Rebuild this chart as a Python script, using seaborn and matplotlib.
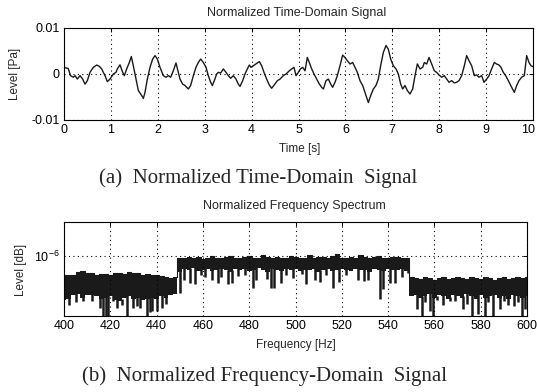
import numpy as np
import pandas as pd
import matplotlib
matplotlib.use("Agg")
import matplotlib.pyplot as plt
import matplotlib.transforms as mtransforms
import seaborn as sns
from matplotlib.ticker import NullLocator, LogFormatterMathtext

# ---------------- data: time-domain signal (level in 1e-3 Pa) ----------------
time_s = [0.0, 0.09, 0.14, 0.20, 0.235, 0.284, 0.341, 0.398, 0.448, 0.498,
          0.554, 0.625, 0.697, 0.754, 0.803, 0.874, 0.924, 0.981, 1.052, 1.109,
          1.137, 1.194, 1.251, 1.287, 1.336, 1.393, 1.436, 1.478, 1.535, 1.585,
          1.635, 1.692, 1.727, 1.777, 1.834, 1.891, 1.941, 1.99, 2.047, 2.118,
          2.175, 2.225, 2.274, 2.331, 2.388, 2.438, 2.473, 2.53, 2.58, 2.651,
          2.70, 2.758, 2.814, 2.864, 2.914, 2.971, 3.028, 3.077, 3.127, 3.163,
          3.205, 3.255, 3.291, 3.34, 3.397, 3.454, 3.504, 3.553, 3.61, 3.667,
          3.717, 3.753, 3.81, 3.859, 3.909, 3.952, 3.987, 4.037, 4.094, 4.165,
          4.215, 4.264, 4.321, 4.378, 4.428, 4.499, 4.549, 4.606, 4.677, 4.734,
          4.805, 4.855, 4.904, 4.947, 4.997, 5.04, 5.089, 5.139, 5.188, 5.231,
          5.281, 5.33, 5.387, 5.444, 5.494, 5.53, 5.586, 5.636, 5.686, 5.728,
          5.778, 5.828, 5.885, 5.941, 5.991, 6.041, 6.098, 6.155, 6.205, 6.254,
          6.311, 6.368, 6.418, 6.489, 6.539, 6.596, 6.652, 6.702, 6.752, 6.809,
          6.866, 6.915, 6.965, 7.022, 7.079, 7.129, 7.178, 7.221, 7.271, 7.321,
          7.377, 7.434, 7.484, 7.534, 7.591, 7.648, 7.683, 7.733, 7.783, 7.84,
          7.896, 7.946, 7.996, 8.053, 8.109, 8.159, 8.209, 8.266, 8.323, 8.372,
          8.422, 8.479, 8.536, 8.585, 8.635, 8.692, 8.749, 8.799, 8.848, 8.905,
          8.955, 9.012, 9.062, 9.118, 9.175, 9.225, 9.275, 9.317, 9.367, 9.417,
          9.474, 9.545, 9.602, 9.652, 9.701, 9.758, 9.815, 9.865, 9.915, 9.957,
          10.0]
level_mPa = [1.4, 1.2, -0.36, -0.7, -0.36, -1.1, -0.36, -1.1, -2.2, -1.45,
             0.36, 1.45, 1.95, 1.67, 1.1, -0.36, -1.67, -1.1, 0.0, 0.36,
             1.1, 2.0, 0.36, -0.36, 1.1, 2.5, 3.8, 1.8, -1.1, -3.6,
             -4.35, -5.3, -4.0, -1.1, 1.45, 3.26, 4.0, 3.26, 1.45, -0.36,
             -0.7, -0.36, -0.7, 0.7, 2.4, 0.36, -1.1, -2.2, -2.5, -3.26,
             -2.5, -0.36, 1.45, 2.5, 3.26, 2.5, 1.45, -0.36, -1.8, -2.5,
             -1.45, 0.0, 0.36, 0.2, 1.1, 0.36, -0.36, -0.94, -0.36, -1.1,
             -2.2, -2.7, -1.45, 0.0, 1.1, 1.95, 1.45, 1.8, 2.17, 2.7,
             1.8, 0.36, -1.1, -2.4, -3.1, -2.17, -1.45, -1.1, -0.36, 0.0,
             0.7, 1.1, 1.45, -0.36, 0.36, 1.1, 1.45, 0.7, 3.6, 2.5,
             1.1, 0.0, -1.1, -2.17, -2.9, -3.26, -1.45, -1.1, -2.17, -2.9,
             -1.8, -0.36, 1.8, 4.1, 3.6, 2.9, 2.17, 2.5, 1.45, 0.36,
             -1.45, -2.5, -4.0, -6.2, -4.7, -3.26, -2.5, -1.1, 1.8, 4.7,
             6.2, 5.4, 3.26, 1.8, 1.1, 0.0, -2.17, -3.26, -2.5, -3.6,
             -4.35, -3.26, -0.36, 2.2, 1.1, 1.45, 2.5, 2.17, 3.6, 2.17,
             0.7, 0.36, -0.2, -0.7, -0.36, -1.1, -1.8, -1.45, -1.95, -1.8,
             -1.45, -0.36, 1.8, 4.0, 2.9, 1.8, -0.36, -0.2, -0.7, -0.36,
             -1.8, -1.1, -0.36, 1.1, 2.5, 2.17, 1.95, 1.45, 0.36, -0.36,
             -1.45, -2.9, -4.0, -2.5, -1.45, -0.7, -0.36, 4.0, 2.5, 1.8,
             1.6]

# ---------------- data: frequency spectrum (level in 1e-7) ----------------
freq_hz = list(range(400, 601, 2))
upper_e7 = [6.2, 6.3, 6.3, 6.8, 6.9, 6.6, 6.5, 6.3, 6.4, 6.4,
            6.3, 6.5, 6.6, 6.4, 6.7, 6.6, 6.5, 6.3, 6.4, 6.2,
            6.3, 6.1, 5.9, 5.8, 5.9,
            9.6, 9.4, 9.8, 9.5, 9.7, 9.3, 9.6, 9.9, 9.5, 9.4,
            9.8, 10.0, 9.6, 9.5, 9.7, 9.9, 9.4, 9.6, 10.2, 9.7,
            9.5, 9.8, 9.6, 9.4, 9.9, 9.7, 9.5, 9.6, 10.1, 9.4,
            9.7, 9.8, 9.5, 9.9, 10.4, 9.6, 9.5, 9.8, 9.6, 10.3,
            9.7, 9.5, 9.8, 9.9, 9.6, 9.4, 9.7, 9.8, 9.5, 9.6,
            6.0, 5.8, 5.7, 5.9, 5.8, 5.6, 5.8, 5.9, 5.7, 5.8,
            6.0, 5.8, 5.7, 5.9, 5.8, 5.7, 5.9, 5.8, 5.6, 5.8,
            5.9, 5.7, 5.8, 5.9, 5.8, 5.9]
floor_e7 = [3.4, 3.5, 3.8, 3.9, 3.6, 3.8, 3.8, 3.7, 3.5, 3.6,
            3.7, 3.4, 3.3, 3.6, 3.7, 3.5, 3.6, 3.4, 3.5, 3.6,
            3.5, 3.7, 3.6, 3.8, 3.9,
            6.8, 7.2, 7.0, 7.4, 6.9, 7.1, 7.3, 6.9, 7.0, 7.2,
            7.1, 6.8, 7.3, 7.0, 7.2, 6.9, 7.1, 7.4, 7.0, 6.8,
            7.2, 7.1, 6.9, 7.3, 7.0, 7.2, 6.9, 7.1, 7.0, 7.3,
            6.8, 7.1, 7.2, 6.9, 7.0, 7.3, 7.1, 6.9, 7.2, 7.0,
            7.1, 6.8, 7.2, 7.0, 6.9, 7.3, 7.1, 7.0, 7.2, 6.9,
            3.7, 3.8, 3.6, 3.7, 3.9, 3.6, 3.8, 3.7, 3.5, 3.8,
            3.7, 3.6, 3.9, 3.7, 3.5, 3.8, 3.6, 3.7, 3.8, 3.6,
            3.7, 3.5, 3.8, 3.7, 3.6, 3.7]
dip_hz = [402, 405, 408, 412, 415.5, 417, 418, 419.2, 421, 423,
          425, 427, 430, 431.5, 433, 435.7, 437, 438, 440, 442.2, 444,
          450.1, 452, 454.4, 456.6, 459, 460.9, 463.8, 466.7, 468, 471,
          472.5, 475.3, 478, 481.8, 483, 487.5, 489.5, 490.8, 493.6, 496,
          499, 502.6, 504.5, 508.5, 510.5, 513, 516.3, 519, 522, 527,
          529.5, 531.5, 536.5, 538, 541, 543, 546, 548.5,
          552.3, 554.5, 556, 558.1, 559.5, 561, 563.9, 566.8, 569, 572.5,
          574, 576.1, 579, 581.9, 583, 585.5, 588.4, 590, 592, 594.2,
          596, 597.8, 599.2]
dip_e7 = [3.0, 3.2, 3.3, 3.3, 2.8, 2.2, 2.2, 2.2, 3.3, 2.8,
          3.0, 2.2, 2.8, 2.9, 2.8, 2.2, 2.5, 2.6, 2.6, 2.8, 3.1,
          4.0, 5.5, 5.1, 5.0, 6.2, 6.0, 5.5, 5.2, 6.0, 5.0,
          5.1, 6.1, 6.3, 4.6, 5.6, 5.7, 4.5, 4.6, 5.1, 6.2,
          5.8, 6.4, 5.0, 5.5, 5.3, 6.2, 4.5, 5.3, 6.3, 5.6,
          5.4, 5.6, 3.5, 4.4, 5.1, 5.2, 6.0, 6.5,
          2.7, 2.2, 3.2, 2.6, 2.2, 3.4, 3.0, 3.3, 3.3, 2.7,
          3.1, 2.2, 2.4, 2.2, 3.2, 2.2, 2.7, 3.3, 3.0, 2.9,
          3.2, 2.2, 2.7]

# ---------------- style ----------------
sns.set_theme(style="white")
plt.rcParams["font.family"] = ["Liberation Sans", "DejaVu Sans"]
plt.rcParams["mathtext.fontset"] = "custom"
plt.rcParams["mathtext.rm"] = "Liberation Sans"
plt.rcParams["axes.edgecolor"] = "black"
plt.rcParams["axes.linewidth"] = 0.8

W, H = 537, 392
fig = plt.figure(figsize=(W / 100, H / 100), dpi=100)
fig.patch.set_facecolor("white")


def rect(l, t, r, b):
    return [l / W, 1 - b / H, (r - l) / W, (b - t) / H]


def fx(x):
    return x / W


def fy(y):
    return 1 - y / H


ax1 = fig.add_axes(rect(64, 28, 533, 120))
ax2 = fig.add_axes(rect(64, 222, 527, 316))

ink = "#1a1a1a"
tick_kw = dict(direction="in", length=3, width=0.7, top=True, right=True,
               labelsize=9, colors="black", pad=3)

# ----- top: time signal -----
df_t = pd.DataFrame({"t": time_s, "p": np.array(level_mPa) * 1e-3})
sns.lineplot(data=df_t, x="t", y="p", ax=ax1, color=ink, linewidth=1.0)
ax1.set_xlim(0, 10)
ax1.set_ylim(-0.01, 0.01)
ax1.set_xticks(range(11))
ax1.set_yticks([-0.01, 0, 0.01])
ax1.set_yticklabels(["-0.01", "0", "0.01"])
ax1.grid(True, linestyle=(0, (1, 3)), color="black", linewidth=0.8)
ax1.tick_params(**tick_kw)
ax1.set_xlabel("")
ax1.set_ylabel("")

# ----- bottom: spectrum -----
f = np.array(freq_hz, dtype=float)
up = np.array(upper_e7) * 1e-7
fl = np.array(floor_e7) * 1e-7
ax2.set_yscale("log")
ax2.fill_between(f, fl, up, step="mid", color=ink, linewidth=0)
sns.lineplot(x=f, y=up, ax=ax2, color=ink, linewidth=0.8, drawstyle="steps-mid")
dh = np.array(dip_hz)
idx = np.clip(np.round((dh - 400) / 2).astype(int), 0, len(fl) - 1)
ax2.vlines(dh, np.array(dip_e7) * 1e-7, fl[idx] * 1.05, color=ink, linewidth=1.8)
ax2.set_xlim(400, 600)
ax2.set_ylim(10 ** -6.64, 10 ** -5.64)
ax2.set_xticks(range(400, 601, 20))
ax2.set_yticks([1e-6])
ax2.yaxis.set_minor_locator(NullLocator())
ax2.yaxis.set_major_formatter(LogFormatterMathtext())
ax2.grid(True, linestyle=(0, (1, 3)), color="black", linewidth=0.8)
ax2.tick_params(**tick_kw)
ax2.tick_params(which="minor", left=False, right=False)
ax2.set_xlabel("")
ax2.set_ylabel("")

for ax in (ax1, ax2):
    for s in ax.spines.values():
        s.set_color("black")
        s.set_linewidth(0.8)
    ax.set_axisbelow(False)

# keep the last time tick label inside the canvas, as in the reference
last = ax1.get_xticklabels()[-1]
last.set_transform(last.get_transform() +
                   mtransforms.ScaledTranslation(-5 / 100, 0, fig.dpi_scale_trans))

# ----- texts -----
fig.text(fx(297), fy(13), "Normalized Time-Domain Signal", ha="center", va="center", fontsize=9)
fig.text(fx(300), fy(149), "Time [s]", ha="center", va="center", fontsize=8.5)
fig.text(fx(15), fy(74), "Level [Pa]", ha="center", va="center", fontsize=8.5, rotation=90)
fig.text(fx(258), fy(178), "(a)  Normalized Time-Domain  Signal", ha="center", va="center",
         fontsize=15, family=["Liberation Serif", "DejaVu Serif"])

fig.text(fx(294), fy(206), "Normalized Frequency Spectrum", ha="center", va="center", fontsize=9)
fig.text(fx(296), fy(345), "Frequency [Hz]", ha="center", va="center", fontsize=8.5)
fig.text(fx(21), fy(270), "Level [dB]", ha="center", va="center", fontsize=8.5, rotation=90)
fig.text(fx(264), fy(376), "(b)  Normalized Frequency-Domain  Signal", ha="center", va="center",
         fontsize=15, family=["Liberation Serif", "DejaVu Serif"])

fig.savefig("out.png", dpi=100, facecolor="white")
